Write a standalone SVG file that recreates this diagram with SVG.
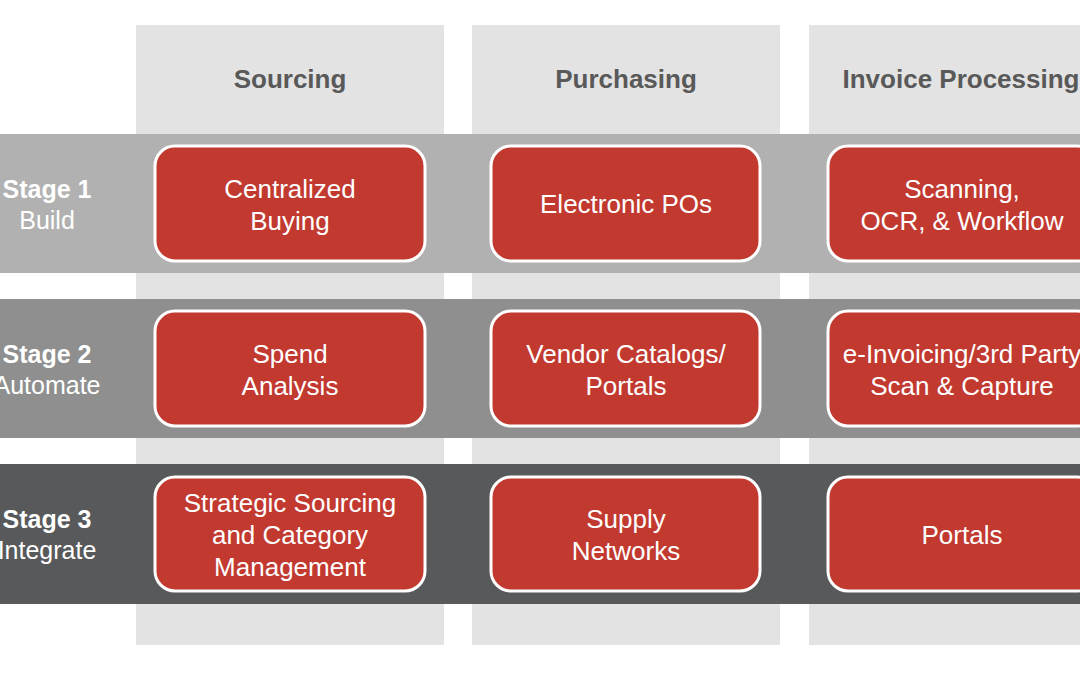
<svg xmlns="http://www.w3.org/2000/svg" width="1080" height="675" viewBox="0 0 1080 675">
<style>
.col{fill:#e3e3e3}
.hdr{font-family:"Liberation Sans",Arial,sans-serif;font-size:26px;font-weight:bold;fill:#595959;text-anchor:middle}
.box{fill:#c1392f;stroke:#ffffff;stroke-width:3}
.bt{font-family:"Liberation Sans",Arial,sans-serif;font-size:26px;fill:#ffffff;text-anchor:middle}
.st{font-family:"Liberation Sans",Arial,sans-serif;font-size:25px;fill:#ffffff;text-anchor:middle}
.stb{font-weight:bold}
</style>
<rect width="1080" height="675" fill="#ffffff"/>
<g id="columns">
<rect class="col" x="136" y="25" width="308" height="620"/>
<rect class="col" x="472" y="25" width="308" height="620"/>
<rect class="col" x="809" y="25" width="300" height="620"/>
<text class="hdr" x="290" y="88">Sourcing</text>
<text class="hdr" x="626" y="88">Purchasing</text>
<text class="hdr" x="961" y="88">Invoice Processing</text>
</g>
<g id="bands">
<rect x="0" y="134" width="1080" height="139" fill="#b1b1b1"/>
<rect x="0" y="299" width="1080" height="139" fill="#8f8f8f"/>
<rect x="0" y="464" width="1080" height="140" fill="#58595b"/>
</g>
<g id="stage1"><text class="st stb" x="47" y="198">Stage 1</text><text class="st" x="47" y="229">Build</text></g>
<g id="stage2"><text class="st stb" x="47" y="363">Stage 2</text><text class="st" x="47" y="394">Automate</text></g>
<g id="stage3"><text class="st stb" x="47" y="528">Stage 3</text><text class="st" x="47" y="559">Integrate</text></g>
<g id="centralized-buying"><rect class="box" x="155" y="146" width="270" height="115" rx="20"/><text class="bt" x="290" y="198">Centralized</text><text class="bt" x="290" y="230">Buying</text></g>
<g id="electronic-pos"><rect class="box" x="491" y="146" width="269" height="115" rx="20"/><text class="bt" x="626" y="213">Electronic POs</text></g>
<g id="scanning"><rect class="box" x="828" y="146" width="269" height="115" rx="20"/><text class="bt" x="962" y="198">Scanning,</text><text class="bt" x="962" y="230">OCR, &amp; Workflow</text></g>
<g id="spend-analysis"><rect class="box" x="155" y="311" width="270" height="115" rx="20"/><text class="bt" x="290" y="363">Spend</text><text class="bt" x="290" y="395">Analysis</text></g>
<g id="vendor-catalogs"><rect class="box" x="491" y="311" width="269" height="115" rx="20"/><text class="bt" x="626" y="363">Vendor Catalogs/</text><text class="bt" x="626" y="395">Portals</text></g>
<g id="e-invoicing"><rect class="box" x="828" y="311" width="269" height="115" rx="20"/><text class="bt" x="962" y="363">e-Invoicing/3rd Party</text><text class="bt" x="962" y="395">Scan &amp; Capture</text></g>
<g id="strategic-sourcing"><rect class="box" x="155" y="477" width="270" height="114" rx="20"/><text class="bt" x="290" y="512">Strategic Sourcing</text><text class="bt" x="290" y="544">and Category</text><text class="bt" x="290" y="576">Management</text></g>
<g id="supply-networks"><rect class="box" x="491" y="477" width="269" height="114" rx="20"/><text class="bt" x="626" y="528">Supply</text><text class="bt" x="626" y="560">Networks</text></g>
<g id="portals"><rect class="box" x="828" y="477" width="269" height="114" rx="20"/><text class="bt" x="962" y="544">Portals</text></g>
<g id="connectors"></g>
</svg>
